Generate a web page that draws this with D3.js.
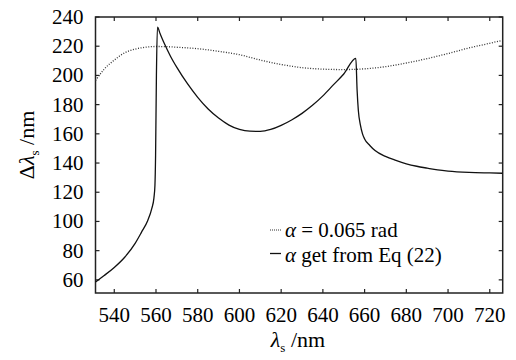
<!DOCTYPE html>
<html><head><meta charset="utf-8"><script src="https://cdn.jsdelivr.net/npm/d3@7"></script>
<style>
  body { margin: 0; }
  svg text, svg tspan { font-family: 'Liberation Serif', 'Times New Roman', 'Tinos', 'FreeSerif' !important; }
</style>
</head>
<body>
<script>
// dotted curve, alpha = 0.065 rad
const fixedLambda = [531, 535, 540, 545, 550, 555, 560, 565, 570, 580, 590, 600, 610, 620, 630, 640, 650, 660, 670, 680, 690, 700, 710, 720, 726];
const fixedDelta  = [196.5, 204, 210.5, 215.5, 218, 219.3, 219.8, 219.7, 219.3, 218.3, 216.5, 214.2, 210.5, 207.5, 205.3, 204.3, 204, 204.5, 206, 208.5, 211.5, 215, 218.8, 222, 224];

// solid curve, alpha from Eq (22)
const eqLambda = [531, 535, 540, 545, 550, 553, 556, 558, 559, 559.5, 559.8, 560.2, 560.7, 562, 564, 567, 570, 575, 580, 585, 590, 595, 600, 605, 610, 615, 620, 625, 630, 635, 640, 645, 650, 655.8, 656.4, 657, 658, 659, 660, 662.5, 665, 670, 675, 680, 685, 690, 695, 700, 710, 720, 726];
const eqDelta  = [58.5, 62.8, 68.5, 75.5, 85, 92.5, 100.5, 109, 116, 125, 145, 200, 233, 228.5, 221.8, 213, 205.5, 194.5, 185, 177, 170.8, 166, 163, 161.8, 161.7, 163, 165.8, 169.5, 174, 179.5, 186, 193.5, 201, 211.7, 190, 176, 166, 160, 156.5, 152, 148.5, 144.5, 141.8, 139.5, 137.8, 136.5, 135.3, 134.5, 133.6, 133.2, 133];

const xTicks = [540, 560, 580, 600, 620, 640, 660, 680, 700, 720];
const yTicks = [60, 80, 100, 120, 140, 160, 180, 200, 220, 240];

const W = 516, H = 360;
const plotL = 95.5, plotR = 502.7, plotT = 17, plotB = 293;
const serif = "'Liberation Serif'";

const svg = d3.select('body').append('svg')
  .attr('width', W).attr('height', H);

const x = d3.scaleLinear().domain([531, 726.2]).range([plotL, plotR]);
const y = d3.scaleLinear().domain([51, 240]).range([plotB, plotT]);

// frame
svg.append('rect')
  .attr('x', plotL).attr('y', plotT)
  .attr('width', plotR - plotL).attr('height', plotB - plotT)
  .attr('fill', 'none').attr('stroke', '#222').attr('stroke-width', 1.5);

// inward ticks on all four sides
const ticks = svg.append('g').attr('stroke', '#222').attr('stroke-width', 1.2);
ticks.selectAll('.xb').data(xTicks).enter().append('line')
  .attr('x1', d => x(d)).attr('x2', d => x(d)).attr('y1', plotB).attr('y2', plotB - 4);
ticks.selectAll('.xt').data(xTicks).enter().append('line')
  .attr('x1', d => x(d)).attr('x2', d => x(d)).attr('y1', plotT).attr('y2', plotT + 4);
ticks.selectAll('.yl').data(yTicks).enter().append('line')
  .attr('x1', plotL).attr('x2', plotL + 4).attr('y1', d => y(d)).attr('y2', d => y(d));
ticks.selectAll('.yr').data(yTicks).enter().append('line')
  .attr('x1', plotR).attr('x2', plotR - 4).attr('y1', d => y(d)).attr('y2', d => y(d));

// tick labels
svg.selectAll('.xl').data(xTicks).enter().append('text')
  .attr('x', d => x(d)).attr('y', 321.5)
  .attr('text-anchor', 'middle')
  .style('font-family', serif).style('font-size', '21px')
  .text(d => d);

svg.selectAll('.ylab').data(yTicks).enter().append('text')
  .attr('x', plotL - 12).attr('y', d => y(d) + 7)
  .attr('text-anchor', 'end')
  .style('font-family', serif).style('font-size', '21px')
  .text(d => d);

// curves
const line = d3.line()
  .x(d => x(d[0]))
  .y(d => y(d[1]))
  .curve(d3.curveMonotoneX);

svg.append('path')
  .datum(d3.zip(fixedLambda, fixedDelta))
  .attr('d', line)
  .attr('fill', 'none')
  .attr('stroke', '#333')
  .attr('stroke-width', 1.3)
  .attr('stroke-dasharray', '1,1.6');

svg.append('path')
  .datum(d3.zip(eqLambda, eqDelta))
  .attr('d', line)
  .attr('fill', 'none')
  .attr('stroke', '#111')
  .attr('stroke-width', 1.3);

// legend
svg.append('line')
  .attr('x1', 270).attr('x2', 281).attr('y1', 230).attr('y2', 230)
  .attr('stroke', '#333').attr('stroke-width', 1.2).attr('stroke-dasharray', '1,1');
svg.append('line')
  .attr('x1', 270).attr('x2', 281).attr('y1', 253.5).attr('y2', 253.5)
  .attr('stroke', '#111').attr('stroke-width', 1.3);

const t1 = svg.append('text').attr('x', 285).attr('y', 237)
  .style('font-family', serif).style('font-size', '21px');
t1.append('tspan').style('font-style', 'italic').text('α');
t1.append('tspan').text(' = 0.065 rad');

const t2 = svg.append('text').attr('x', 285).attr('y', 261.5)
  .style('font-family', serif).style('font-size', '21px');
t2.append('tspan').style('font-style', 'italic').text('α');
t2.append('tspan').text(' get from Eq (22)');

// axis titles
const xt = svg.append('text')
  .attr('x', 298).attr('y', 347).attr('text-anchor', 'middle')
  .style('font-family', serif).style('font-size', '22px');
xt.append('tspan').style('font-style', 'italic').text('λ');
xt.append('tspan').style('font-size', '13px').attr('dy', 5).text('s');
xt.append('tspan').attr('dy', -5).text(' /nm');

const yt = svg.append('text')
  .attr('transform', 'translate(34,145) rotate(-90)')
  .attr('text-anchor', 'middle')
  .style('font-family', serif).style('font-size', '22px');
yt.append('tspan').text('Δ');
yt.append('tspan').style('font-style', 'italic').text('λ');
yt.append('tspan').style('font-size', '13px').attr('dy', 5).text('s');
yt.append('tspan').attr('dy', -5).text(' /nm');
</script>
</body>
</html>
